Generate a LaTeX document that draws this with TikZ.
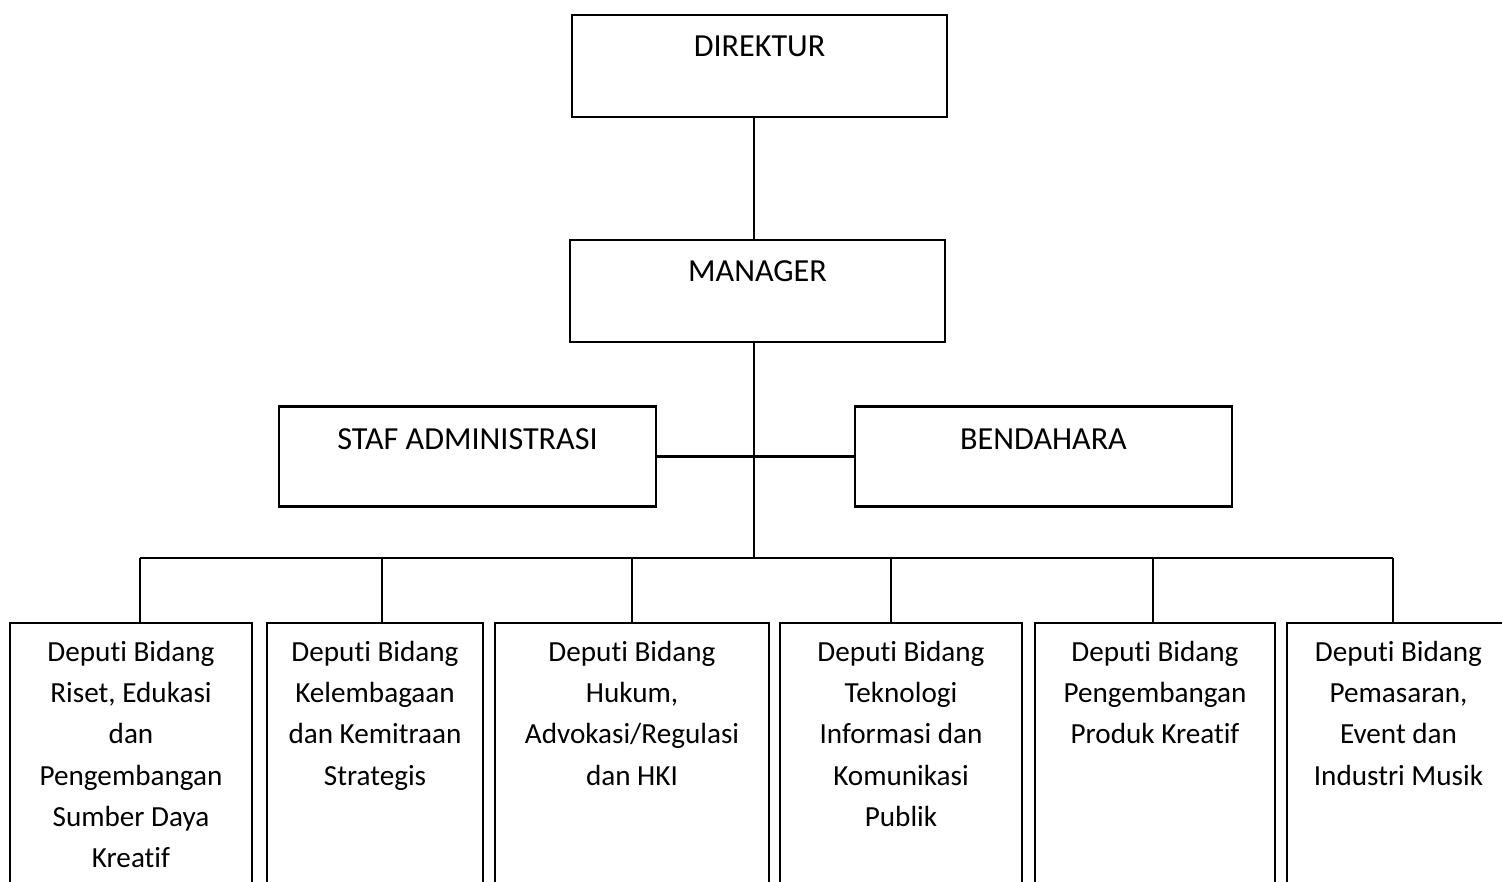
\documentclass[tikz,border=0pt]{standalone}
\usepackage{fontspec}
\setmainfont[Ligatures=NoCommon]{Carlito}
\usetikzlibrary{positioning}
\begin{document}
\begin{tikzpicture}[x=0.02cm, y=-0.02cm, line width=1.35pt,
  box/.style={draw, rectangle, inner sep=0pt},
  topbox/.style={box, minimum width=7.5cm, minimum height=2.04cm},
  midbox/.style={box, minimum width=7.54cm, minimum height=2cm},
  depbox/.style={box, minimum height=5.94cm},
  toplbl/.style={inner sep=0pt, align=center, font=\fontsize{18.3}{22}\selectfont},
  lbl/.style={inner sep=0pt, align=center, font=\fontsize{16.6}{23.5}\selectfont}]
\useasboundingbox (0,0) rectangle (1502,882);
\clip (0,0) rectangle (1502,882);
\fill[white] (0,0) rectangle (1502,882);
\node[topbox] (dir) at (759.5,66){};
\node[toplbl, below=0.42cm of dir.north] (dirtxt) {DIREKTUR};
\node[topbox] (mgr) at (757.5,291){};
\node[toplbl, below=0.42cm of mgr.north] (mgrtxt) {MANAGER};
\node[midbox] (staf) at (467.5,456.5){};
\node[toplbl, below=0.45cm of staf.north] (staftxt) {STAF ADMINISTRASI};
\node[midbox] (bend) at (1043.5,456.5){};
\node[toplbl, below=0.45cm of bend.north] (bendtxt) {BENDAHARA};
\node[depbox, minimum width=4.84cm] (dep1) at (131,771.5){};
\node[lbl, below=0.36cm of dep1.north] (dep1txt) {Deputi Bidang\\Riset, Edukasi\\dan\\Pengembangan\\Sumber Daya\\Kreatif};
\node[depbox, minimum width=4.32cm] (dep2) at (375,771.5){};
\node[lbl, below=0.36cm of dep2.north] (dep2txt) {Deputi Bidang\\Kelembagaan\\dan Kemitraan\\Strategis};
\node[depbox, minimum width=5.48cm] (dep3) at (632,771.5){};
\node[lbl, below=0.36cm of dep3.north] (dep3txt) {Deputi Bidang\\Hukum,\\Advokasi/Regulasi\\dan HKI};
\node[depbox, minimum width=4.84cm] (dep4) at (901,771.5){};
\node[lbl, below=0.36cm of dep4.north] (dep4txt) {Deputi Bidang\\Teknologi\\Informasi dan\\Komunikasi\\Publik};
\node[depbox, minimum width=4.8cm] (dep5) at (1155,771.5){};
\node[lbl, below=0.36cm of dep5.north] (dep5txt) {Deputi Bidang\\Pengembangan\\Produk Kreatif};
\node[depbox, minimum width=4.46cm] (dep6) at (1398.5,771.5){};
\node[lbl, below=0.36cm of dep6.north] (dep6txt) {Deputi Bidang\\Pemasaran,\\Event dan\\Industri Musik};
\coordinate (trunk) at (754,558);
\coordinate (j1) at (140,558);
\coordinate (j2) at (382,558);
\coordinate (j3) at (632,558);
\coordinate (j4) at (891,558);
\coordinate (j5) at (1153,558);
\coordinate (j6) at (1393,558);
\draw (dir.south -| trunk) -- (mgr.north -| trunk);
\draw (mgr.south -| trunk) -- (trunk);
\draw (staf.east) -- (bend.west);
\draw (j1) -- (j6);
\draw (j1) -- (j1 |- dep1.north);
\draw (j2) -- (j2 |- dep2.north);
\draw (j3) -- (j3 |- dep3.north);
\draw (j4) -- (j4 |- dep4.north);
\draw (j5) -- (j5 |- dep5.north);
\draw (j6) -- (j6 |- dep6.north);
\end{tikzpicture}
\end{document}
